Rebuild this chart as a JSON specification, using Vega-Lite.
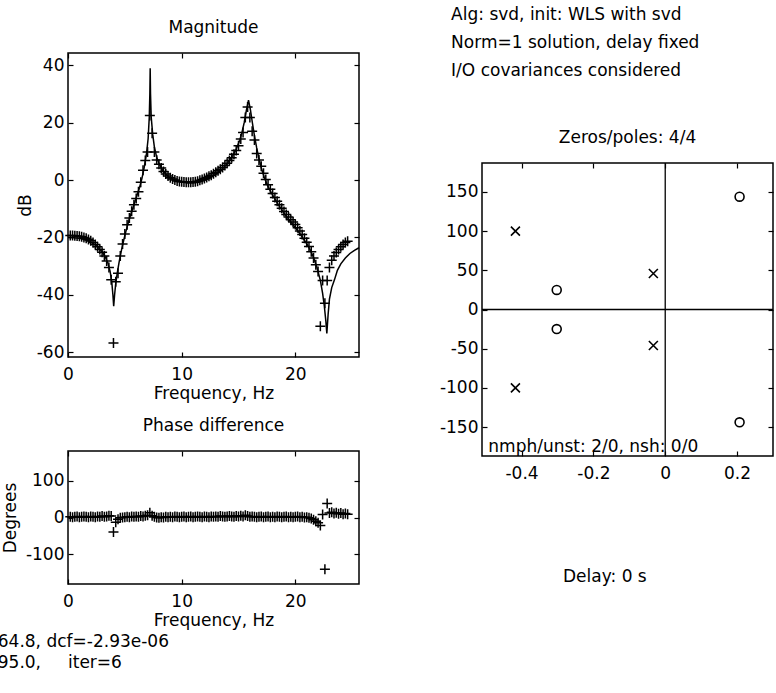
{
  "$schema": "https://vega.github.io/schema/vega-lite/v6.json",
  "background": "white",
  "padding": {"left": -3, "top": 6, "right": 5, "bottom": 5},
  "config": {
    "font": "DejaVu Sans",
    "view": {"stroke": "black", "strokeWidth": 1.5},
    "axis": {"labelFont": "DejaVu Sans", "labelFontSize": 17, "labelColor": "black", "titleFont": "DejaVu Sans", "titleFontSize": 17, "titleFontWeight": "normal", "titleColor": "black", "grid": false, "domain": false, "tickColor": "black", "tickSize": -5, "tickWidth": 1.2, "labelFlush": false, "labelBound": false},
    "axisX": {"labelPadding": 14, "titlePadding": 3},
    "axisY": {"labelPadding": 9},
    "title": {"font": "DejaVu Sans", "fontSize": 17, "fontWeight": "normal", "color": "black", "frame": "group", "baseline": "alphabetic", "offset": 15, "anchor": "middle"},
    "text": {"font": "DejaVu Sans", "fontSize": 17, "color": "black"}
  },
  "datasets": {
    "model": [
      {"f":0,"db":-20.0},{"f":0.5,"db":-20.1},{"f":1.0,"db":-20.3},{"f":1.5,"db":-20.8},{"f":2.0,"db":-21.6},{"f":2.5,"db":-22.9},{"f":3.0,"db":-25.0},{"f":3.3,"db":-27.0},{"f":3.5,"db":-28.8},{"f":3.7,"db":-31.8},{"f":3.85,"db":-35.5},{"f":3.95,"db":-40},{"f":4.02,"db":-44},{"f":4.1,"db":-40},{"f":4.2,"db":-36},{"f":4.35,"db":-32},{"f":4.5,"db":-28.5},{"f":4.7,"db":-24.5},{"f":4.9,"db":-21},{"f":5.1,"db":-17.8},{"f":5.4,"db":-13.5},{"f":5.7,"db":-9.8},{"f":6.0,"db":-6.2},{"f":6.3,"db":-2.5},{"f":6.5,"db":0.5},{"f":6.7,"db":4.3},{"f":6.9,"db":9.0},{"f":7.05,"db":14.5},{"f":7.15,"db":22},{"f":7.2,"db":30},{"f":7.23,"db":39},{"f":7.26,"db":30},{"f":7.32,"db":22},{"f":7.45,"db":16},{"f":7.6,"db":11.5},{"f":7.8,"db":8},{"f":8.0,"db":5.8},{"f":8.3,"db":3.6},{"f":8.6,"db":2.0},{"f":9.0,"db":0.7},{"f":9.5,"db":-0.2},{"f":10.0,"db":-0.7},{"f":10.5,"db":-1.0},{"f":11.0,"db":-1.0},{"f":11.5,"db":-0.8},{"f":12.0,"db":-0.2},{"f":12.5,"db":0.7},{"f":13.0,"db":2.0},{"f":13.5,"db":3.6},{"f":14.0,"db":5.7},{"f":14.5,"db":8.6},{"f":14.8,"db":10.8},{"f":15.1,"db":13.8},{"f":15.3,"db":16.5},{"f":15.5,"db":20},{"f":15.7,"db":24.5},{"f":15.88,"db":27.9},{"f":16.05,"db":24.5},{"f":16.2,"db":20.5},{"f":16.4,"db":15.5},{"f":16.6,"db":11.2},{"f":16.8,"db":7.5},{"f":17.0,"db":4.3},{"f":17.3,"db":0.5},{"f":17.6,"db":-2.3},{"f":18.0,"db":-5.3},{"f":18.5,"db":-8.6},{"f":19.0,"db":-11.5},{"f":19.5,"db":-14.1},{"f":20.0,"db":-16.6},{"f":20.5,"db":-19.3},{"f":21.0,"db":-22.2},{"f":21.3,"db":-24.3},{"f":21.6,"db":-27},{"f":21.9,"db":-30.5},{"f":22.2,"db":-35},{"f":22.4,"db":-39.5},{"f":22.55,"db":-44},{"f":22.68,"db":-49},{"f":22.77,"db":-53.5},{"f":22.88,"db":-47},{"f":23.0,"db":-41.5},{"f":23.2,"db":-37.5},{"f":23.44,"db":-34.8},{"f":23.7,"db":-31.5},{"f":24.0,"db":-29.2},{"f":24.4,"db":-27.2},{"f":24.8,"db":-25.6},{"f":25.2,"db":-24.5},{"f":25.6,"db":-23.6}
    ],
    "meas": [
      {"f":0.2,"db":-19.3,"deg":2},{"f":0.4,"db":-19.3,"deg":1},{"f":0.6,"db":-19.4,"deg":2},{"f":0.8,"db":-19.5,"deg":3},{"f":1.0,"db":-19.6,"deg":1},{"f":1.2,"db":-19.8,"deg":2},{"f":1.4,"db":-20.0,"deg":3},{"f":1.6,"db":-20.3,"deg":2},{"f":1.8,"db":-20.7,"deg":1},{"f":2.0,"db":-21.2,"deg":3},
      {"f":2.2,"db":-21.8,"deg":2},{"f":2.4,"db":-22.5,"deg":1},{"f":2.6,"db":-23.3,"deg":3},{"f":2.8,"db":-24.2,"deg":2},{"f":3.0,"db":-25.2,"deg":4},{"f":3.2,"db":-26.5,"deg":2},{"f":3.4,"db":-28.2,"deg":3},{"f":3.6,"db":-30.5,"deg":5},{"f":3.8,"db":-34.8,"deg":4},{"f":4.0,"db":-56.8,"deg":-39.5},
      {"f":4.2,"db":-35.5,"deg":-13},{"f":4.4,"db":-32.5,"deg":-5},{"f":4.6,"db":-26.5,"deg":-1},{"f":4.8,"db":-22.3,"deg":0},{"f":5.0,"db":-18.8,"deg":1},{"f":5.2,"db":-15.6,"deg":2},{"f":5.4,"db":-13.2,"deg":1},{"f":5.6,"db":-10.9,"deg":3},{"f":5.8,"db":-8.6,"deg":2},{"f":6.0,"db":-6.4,"deg":3},
      {"f":6.2,"db":-4.1,"deg":2},{"f":6.4,"db":-0.8,"deg":4},{"f":6.6,"db":3.4,"deg":3},{"f":6.8,"db":6.8,"deg":5},{"f":7.0,"db":9.8,"deg":6},{"f":7.2,"db":22.5,"deg":13},{"f":7.4,"db":16.3,"deg":5},{"f":7.6,"db":9.8,"deg":2},{"f":7.8,"db":7.0,"deg":0},{"f":8.0,"db":5.5,"deg":-1},
      {"f":8.2,"db":4.2,"deg":1},{"f":8.4,"db":3.0,"deg":0},{"f":8.6,"db":2.1,"deg":2},{"f":8.8,"db":1.4,"deg":1},{"f":9.0,"db":0.8,"deg":2},{"f":9.2,"db":0.4,"deg":1},{"f":9.4,"db":0.0,"deg":3},{"f":9.6,"db":-0.3,"deg":2},{"f":9.8,"db":-0.5,"deg":1},{"f":10.0,"db":-0.6,"deg":2},
      {"f":10.2,"db":-0.7,"deg":3},{"f":10.4,"db":-0.8,"deg":1},{"f":10.6,"db":-0.8,"deg":2},{"f":10.8,"db":-0.8,"deg":3},{"f":11.0,"db":-0.7,"deg":1},{"f":11.2,"db":-0.6,"deg":2},{"f":11.4,"db":-0.4,"deg":3},{"f":11.6,"db":-0.1,"deg":2},{"f":11.8,"db":0.2,"deg":1},{"f":12.0,"db":0.5,"deg":3},
      {"f":12.2,"db":0.9,"deg":2},{"f":12.4,"db":1.3,"deg":1},{"f":12.6,"db":1.7,"deg":3},{"f":12.8,"db":2.2,"deg":2},{"f":13.0,"db":2.7,"deg":3},{"f":13.2,"db":3.2,"deg":2},{"f":13.4,"db":3.8,"deg":4},{"f":13.6,"db":4.4,"deg":3},{"f":13.8,"db":5.1,"deg":2},{"f":14.0,"db":5.9,"deg":3},
      {"f":14.2,"db":6.8,"deg":4},{"f":14.4,"db":7.8,"deg":3},{"f":14.6,"db":9.0,"deg":2},{"f":14.8,"db":10.3,"deg":4},{"f":15.0,"db":12.0,"deg":3},{"f":15.2,"db":14.3,"deg":5},{"f":15.4,"db":16.6,"deg":3},{"f":15.6,"db":21.8,"deg":6},{"f":15.8,"db":25.5,"deg":4},{"f":16.0,"db":21.8,"deg":2},
      {"f":16.2,"db":17.0,"deg":3},{"f":16.4,"db":14.0,"deg":2},{"f":16.6,"db":9.3,"deg":1},{"f":16.8,"db":7.0,"deg":2},{"f":17.0,"db":4.8,"deg":3},{"f":17.2,"db":2.4,"deg":1},{"f":17.4,"db":0.2,"deg":2},{"f":17.6,"db":-1.6,"deg":3},{"f":17.8,"db":-3.2,"deg":1},{"f":18.0,"db":-4.7,"deg":2},
      {"f":18.2,"db":-6.1,"deg":1},{"f":18.4,"db":-7.4,"deg":3},{"f":18.6,"db":-8.6,"deg":2},{"f":18.8,"db":-9.8,"deg":1},{"f":19.0,"db":-11.0,"deg":2},{"f":19.2,"db":-12.0,"deg":3},{"f":19.4,"db":-12.9,"deg":1},{"f":19.6,"db":-13.8,"deg":2},{"f":19.8,"db":-14.6,"deg":1},{"f":20.0,"db":-15.5,"deg":2},
      {"f":20.2,"db":-16.6,"deg":3},{"f":20.4,"db":-17.8,"deg":1},{"f":20.6,"db":-19.0,"deg":2},{"f":20.8,"db":-20.3,"deg":0},{"f":21.0,"db":-21.7,"deg":1},{"f":21.2,"db":-23.2,"deg":-1},{"f":21.4,"db":-25.0,"deg":-3},{"f":21.6,"db":-27.2,"deg":-6},{"f":21.8,"db":-29.5,"deg":-10},{"f":22.0,"db":-31.9,"deg":-14},
      {"f":22.2,"db":-51.0,"deg":-21.5},{"f":22.4,"db":-35.0,"deg":8},{"f":22.6,"db":-43.0,"deg":-140},{"f":22.8,"db":-35.0,"deg":38},{"f":23.0,"db":-30.5,"deg":12},{"f":23.2,"db":-28.0,"deg":14},{"f":23.4,"db":-26.5,"deg":11},{"f":23.6,"db":-25.3,"deg":13},{"f":23.8,"db":-24.2,"deg":10},{"f":24.0,"db":-23.3,"deg":12},
      {"f":24.2,"db":-22.5,"deg":9},{"f":24.4,"db":-21.8,"deg":11},{"f":24.6,"db":-21.3,"deg":9}
    ],
    "zp": [
      {"re":-0.417,"im":100,"kind":"pole"},{"re":-0.417,"im":-100,"kind":"pole"},{"re":-0.033,"im":46,"kind":"pole"},{"re":-0.033,"im":-46,"kind":"pole"},
      {"re":-0.302,"im":25,"kind":"zero"},{"re":-0.302,"im":-25,"kind":"zero"},{"re":0.207,"im":144,"kind":"zero"},{"re":0.207,"im":-144,"kind":"zero"}
    ],
    "frame": [
      {"x1":-0.51,"x2":0.3,"y1":-187,"y2":187}
    ],
    "header": [
      {"x":-0.596,"line":1,"text":"Alg: svd, init: WLS with svd"},
      {"x":-0.596,"line":2,"text":"Norm=1 solution, delay fixed"},
      {"x":-0.596,"line":3,"text":"I/O covariances considered"}
    ],
    "phasenotes": [
      {"x":-6.18,"y":-350.5,"text":"64.8, dcf=-2.93e-06"},
      {"x":-6.18,"y":-407,"text":"95.0,\u00a0\u00a0\u00a0\u00a0\u00a0iter=6"}
    ],
    "zpnotes": [
      {"x":-0.4924,"y":-181.5,"text":"nmph/unst: 2/0, nsh: 0/0"}
    ],
    "delay": [
      {"x":-0.168,"y":-347.8,"text":"Delay: 0 s"}
    ]
  },
  "concat": [
    {
      "width": 291, "height": 304,
      "title": "Magnitude",
      "layer": [
        {
          "data": {"name": "model"},
          "mark": {"type": "line", "color": "black", "strokeWidth": 1.5},
          "encoding": {
            "x": {"field": "f", "type": "quantitative", "scale": {"domain": [0, 25.6], "nice": false, "zero": false}, "axis": {"values": [0, 10, 20], "title": "Frequency, Hz"}},
            "y": {"field": "db", "type": "quantitative", "scale": {"domain": [-61.7, 44.3], "nice": false, "zero": false}, "axis": {"values": [-60, -40, -20, 0, 20, 40], "title": "dB", "titlePadding": 2, "labelExpr": "datum.value < 0 ? '-' + format(-datum.value, '') : format(datum.value, '')"}}
          }
        },
        {
          "data": {"name": "meas"},
          "mark": {"type": "point", "shape": "M-1,0H1M0,-1V1", "filled": false, "stroke": "black", "strokeWidth": 1.5, "size": 100, "opacity": 1},
          "encoding": {
            "x": {"field": "f", "type": "quantitative", "scale": {"domain": [0, 25.6], "nice": false, "zero": false}, "axis": {"orient": "top", "values": [0, 10, 20], "labels": false, "title": null}},
            "y": {"field": "db", "type": "quantitative", "scale": {"domain": [-61.7, 44.3], "nice": false, "zero": false}, "axis": {"orient": "right", "values": [-60, -40, -20, 0, 20, 40], "labels": false, "title": null}}
          }
        }
      ],
      "resolve": {"axis": {"x": "independent", "y": "independent"}}
    },
    {
      "width": 291, "height": 16,
      "view": {"stroke": null},
      "data": {"name": "header"},
      "mark": {"type": "text", "align": "left", "baseline": "alphabetic", "fontSize": 17},
      "encoding": {
        "x": {"field": "x", "type": "quantitative", "scale": {"domain": [-0.51, 0.3], "nice": false, "zero": false}, "axis": null},
        "y": {"field": "line", "type": "ordinal", "scale": {"type": "point", "domain": [1, 2, 3], "range": [-33, 23], "padding": 0}, "axis": null},
        "text": {"field": "text"}
      }
    },
    {
      "width": 291, "height": 133,
      "title": "Phase difference",
      "layer": [
        {
          "data": {"name": "meas"},
          "mark": {"type": "point", "shape": "M-1,0H1M0,-1V1", "filled": false, "stroke": "black", "strokeWidth": 1.5, "size": 100, "opacity": 1},
          "encoding": {
            "x": {"field": "f", "type": "quantitative", "scale": {"domain": [0, 25.6], "nice": false, "zero": false}, "axis": {"values": [0, 10, 20], "title": "Frequency, Hz"}},
            "y": {"field": "deg", "type": "quantitative", "scale": {"domain": [-180, 180], "nice": false, "zero": false}, "axis": {"values": [-100, 0, 100], "title": "Degrees", "titlePadding": 6, "labelExpr": "datum.value < 0 ? '-' + format(-datum.value, '') : format(datum.value, '')"}}
          }
        },
        {
          "data": {"name": "phasenotes"},
          "mark": {"type": "text", "align": "left", "baseline": "alphabetic", "fontSize": 17},
          "encoding": {
            "x": {"field": "x", "type": "quantitative", "scale": {"domain": [0, 25.6], "nice": false, "zero": false}, "axis": {"orient": "top", "values": [0, 10, 20], "labels": false, "title": null}},
            "y": {"field": "y", "type": "quantitative", "scale": {"domain": [-180, 180], "nice": false, "zero": false}, "axis": {"orient": "right", "values": [-100, 0, 100], "labels": false, "title": null}},
            "text": {"field": "text"}
          }
        }
      ],
      "resolve": {"axis": {"x": "independent", "y": "independent"}}
    },
    {
      "width": 291, "height": 133,
      "view": {"stroke": null},
      "title": "Zeros/poles: 4/4",
      "layer": [
        {
          "data": {"name": "frame"},
          "mark": {"type": "rect", "filled": false, "stroke": "black", "strokeWidth": 1.5},
          "encoding": {
            "x": {"field": "x1", "type": "quantitative", "scale": {"domain": [-0.51, 0.3], "nice": false, "zero": false}, "axis": null},
            "x2": {"field": "x2"},
            "y": {"field": "y1", "type": "quantitative", "scale": {"domain": [-187, 187], "range": [5, -288], "nice": false, "zero": false}, "axis": null},
            "y2": {"field": "y2"}
          }
        },
        {
          "data": {"values": [{}]},
          "mark": {"type": "rule", "color": "black", "strokeWidth": 1.3},
          "encoding": {
            "x": {"datum": 0, "type": "quantitative", "scale": {"domain": [-0.51, 0.3], "nice": false, "zero": false}, "axis": null},
            "y": {"datum": -187, "type": "quantitative", "scale": {"domain": [-187, 187], "range": [5, -288], "nice": false, "zero": false}, "axis": null},
            "y2": {"datum": 187}
          }
        },
        {
          "data": {"values": [{}]},
          "mark": {"type": "rule", "color": "black", "strokeWidth": 1.3},
          "encoding": {"y": {"datum": 0, "type": "quantitative", "scale": {"domain": [-187, 187], "range": [5, -288], "nice": false, "zero": false}, "axis": null}}
        },
        {
          "data": {"name": "zp"},
          "transform": [{"filter": "datum.kind == 'pole'"}],
          "mark": {"type": "point", "shape": "M-1,-1L1,1M1,-1L-1,1", "filled": false, "stroke": "black", "strokeWidth": 1.6, "size": 81, "opacity": 1},
          "encoding": {
            "x": {"field": "re", "type": "quantitative", "scale": {"domain": [-0.51, 0.3], "nice": false, "zero": false}, "axis": {"values": [-0.4, -0.2, 0, 0.2], "title": null, "offset": -128, "labelExpr": "datum.value < 0 ? '-' + format(-datum.value, '') : format(datum.value, '')"}},
            "y": {"field": "im", "type": "quantitative", "scale": {"domain": [-187, 187], "range": [5, -288], "nice": false, "zero": false}, "axis": {"values": [-150, -100, -50, 0, 50, 100, 150], "title": null, "labelExpr": "datum.value < 0 ? '-' + format(-datum.value, '') : format(datum.value, '')"}}
          }
        },
        {
          "data": {"name": "zp"},
          "transform": [{"filter": "datum.kind == 'zero'"}],
          "mark": {"type": "point", "shape": "circle", "filled": false, "stroke": "black", "strokeWidth": 1.6, "size": 80, "opacity": 1},
          "encoding": {
            "x": {"field": "re", "type": "quantitative", "scale": {"domain": [-0.51, 0.3], "nice": false, "zero": false}, "axis": {"orient": "top", "offset": 288, "values": [-0.4, -0.2, 0, 0.2], "labels": false, "title": null}},
            "y": {"field": "im", "type": "quantitative", "scale": {"domain": [-187, 187], "range": [5, -288], "nice": false, "zero": false}, "axis": {"orient": "right", "values": [-150, -100, -50, 0, 50, 100, 150], "labels": false, "title": null}}
          }
        },
        {
          "data": {"name": "zpnotes"},
          "mark": {"type": "text", "align": "left", "baseline": "alphabetic", "fontSize": 17},
          "encoding": {
            "x": {"field": "x", "type": "quantitative", "scale": {"domain": [-0.51, 0.3], "nice": false, "zero": false}, "axis": null},
            "y": {"field": "y", "type": "quantitative", "scale": {"domain": [-187, 187], "range": [5, -288], "nice": false, "zero": false}, "axis": null},
            "text": {"field": "text"}
          }
        },
        {
          "data": {"name": "delay"},
          "mark": {"type": "text", "align": "center", "baseline": "alphabetic", "fontSize": 17},
          "encoding": {
            "x": {"field": "x", "type": "quantitative", "scale": {"domain": [-0.51, 0.3], "nice": false, "zero": false}, "axis": null},
            "y": {"field": "y", "type": "quantitative", "scale": {"domain": [-187, 187], "range": [5, -288], "nice": false, "zero": false}, "axis": null},
            "text": {"field": "text"}
          }
        }
      ],
      "resolve": {"axis": {"x": "independent", "y": "independent"}}
    }
  ],
  "columns": 2,
  "align": "all",
  "bounds": "flush",
  "spacing": {"row": 94, "column": 123}
}
